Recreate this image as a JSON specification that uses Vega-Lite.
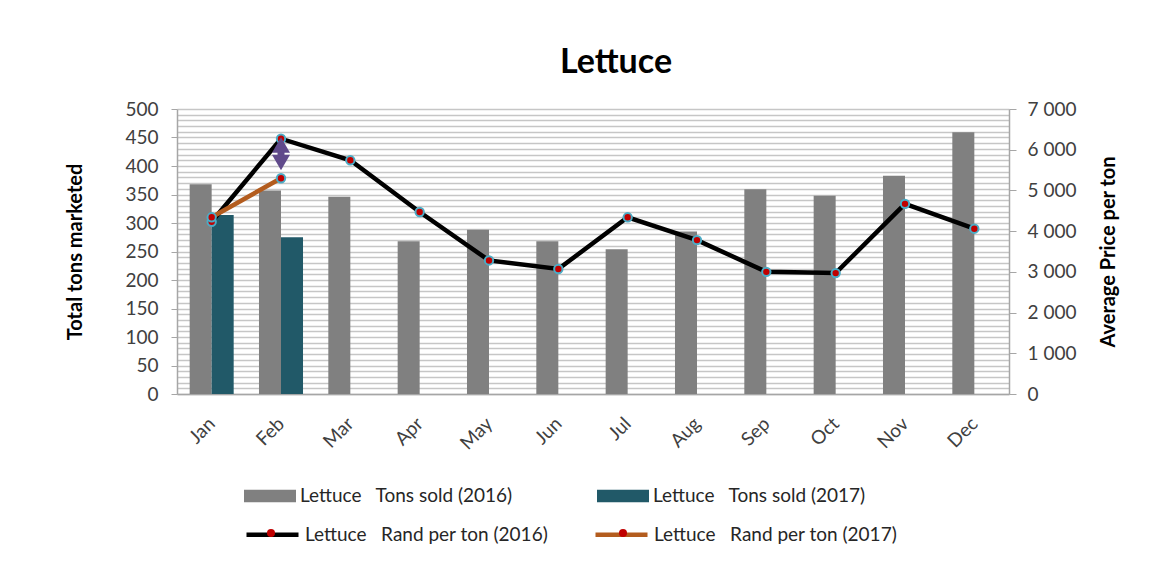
{
  "$schema": "https://vega.github.io/schema/vega-lite/v6.json",
  "width": 832,
  "height": 285,
  "autosize": {"type": "none"},
  "padding": {"left": 177, "top": 109, "right": 143, "bottom": 167},
  "background": "white",
  "title": {"text": "Lettuce", "fontSize": 34, "fontWeight": "bold", "font": "Lato", "color": "#000000", "anchor": "middle", "dx": 23, "offset": -7, "baseline": "alphabetic"},
  "datasets": {
    "tons": [
      {"month": "Jan", "series": "Lettuce\u00a0\u00a0\u00a0Tons sold (2016)", "tons": 368},
      {"month": "Feb", "series": "Lettuce\u00a0\u00a0\u00a0Tons sold (2016)", "tons": 357},
      {"month": "Mar", "series": "Lettuce\u00a0\u00a0\u00a0Tons sold (2016)", "tons": 346},
      {"month": "Apr", "series": "Lettuce\u00a0\u00a0\u00a0Tons sold (2016)", "tons": 268},
      {"month": "May", "series": "Lettuce\u00a0\u00a0\u00a0Tons sold (2016)", "tons": 288},
      {"month": "Jun", "series": "Lettuce\u00a0\u00a0\u00a0Tons sold (2016)", "tons": 268},
      {"month": "Jul", "series": "Lettuce\u00a0\u00a0\u00a0Tons sold (2016)", "tons": 254},
      {"month": "Aug", "series": "Lettuce\u00a0\u00a0\u00a0Tons sold (2016)", "tons": 285},
      {"month": "Sep", "series": "Lettuce\u00a0\u00a0\u00a0Tons sold (2016)", "tons": 359},
      {"month": "Oct", "series": "Lettuce\u00a0\u00a0\u00a0Tons sold (2016)", "tons": 348},
      {"month": "Nov", "series": "Lettuce\u00a0\u00a0\u00a0Tons sold (2016)", "tons": 383},
      {"month": "Dec", "series": "Lettuce\u00a0\u00a0\u00a0Tons sold (2016)", "tons": 459},
      {"month": "Jan", "series": "Lettuce\u00a0\u00a0\u00a0Tons sold (2017)", "tons": 314},
      {"month": "Feb", "series": "Lettuce\u00a0\u00a0\u00a0Tons sold (2017)", "tons": 275}
    ],
    "price": [
      {"month": "Jan", "m": 1, "year": "2016", "series": "Lettuce\u00a0\u00a0\u00a0Rand per ton (2016)", "price": 4230},
      {"month": "Feb", "m": 2, "year": "2016", "series": "Lettuce\u00a0\u00a0\u00a0Rand per ton (2016)", "price": 6270},
      {"month": "Mar", "m": 3, "year": "2016", "series": "Lettuce\u00a0\u00a0\u00a0Rand per ton (2016)", "price": 5740},
      {"month": "Apr", "m": 4, "year": "2016", "series": "Lettuce\u00a0\u00a0\u00a0Rand per ton (2016)", "price": 4470},
      {"month": "May", "m": 5, "year": "2016", "series": "Lettuce\u00a0\u00a0\u00a0Rand per ton (2016)", "price": 3280},
      {"month": "Jun", "m": 6, "year": "2016", "series": "Lettuce\u00a0\u00a0\u00a0Rand per ton (2016)", "price": 3070},
      {"month": "Jul", "m": 7, "year": "2016", "series": "Lettuce\u00a0\u00a0\u00a0Rand per ton (2016)", "price": 4340},
      {"month": "Aug", "m": 8, "year": "2016", "series": "Lettuce\u00a0\u00a0\u00a0Rand per ton (2016)", "price": 3780},
      {"month": "Sep", "m": 9, "year": "2016", "series": "Lettuce\u00a0\u00a0\u00a0Rand per ton (2016)", "price": 3000},
      {"month": "Oct", "m": 10, "year": "2016", "series": "Lettuce\u00a0\u00a0\u00a0Rand per ton (2016)", "price": 2970},
      {"month": "Nov", "m": 11, "year": "2016", "series": "Lettuce\u00a0\u00a0\u00a0Rand per ton (2016)", "price": 4670},
      {"month": "Dec", "m": 12, "year": "2016", "series": "Lettuce\u00a0\u00a0\u00a0Rand per ton (2016)", "price": 4060},
      {"month": "Jan", "m": 1, "year": "2017", "series": "Lettuce\u00a0\u00a0\u00a0Rand per ton (2017)", "price": 4340},
      {"month": "Feb", "m": 2, "year": "2017", "series": "Lettuce\u00a0\u00a0\u00a0Rand per ton (2017)", "price": 5300}
    ],
    "arrow": [
      {"month": "Feb", "top": 6116, "bottom": 5684}
    ]
  },
  "layer": [
    {
      "data": {"name": "tons"},
      "mark": {"type": "bar"},
      "encoding": {
        "x": {
          "field": "month", "type": "nominal",
          "sort": ["Jan", "Feb", "Mar", "Apr", "May", "Jun", "Jul", "Aug", "Sep", "Oct", "Nov", "Dec"],
          "scale": {"paddingInner": 0.365, "paddingOuter": 0.1825},
          "axis": {"title": null, "labelAngle": -45, "labelFontSize": 19, "labelColor": "#404040", "ticks": false, "labelPadding": 20, "labelOffset": -6, "domainColor": "#a6a6a6", "domainWidth": 1.5}
        },
        "xOffset": {"field": "series", "type": "nominal", "sort": ["Lettuce\u00a0\u00a0\u00a0Tons sold (2016)", "Lettuce\u00a0\u00a0\u00a0Tons sold (2017)"]},
        "y": {
          "field": "tons", "type": "quantitative",
          "scale": {"domain": [0, 500], "nice": false},
          "axis": {
            "values": [0,10,20,30,40,50,60,70,80,90,100,110,120,130,140,150,160,170,180,190,200,210,220,230,240,250,260,270,280,290,300,310,320,330,340,350,360,370,380,390,400,410,420,430,440,450,460,470,480,490,500],
            "grid": true, "gridColor": "#c6c6c6", "gridWidth": 1.3,
            "tickSize": 6,
            "tickColor": {"condition": {"test": "datum.value % 50 === 0", "value": "#a6a6a6"}, "value": "transparent"},
            "labelExpr": "datum.value % 50 === 0 ? datum.label : ''",
            "labelFontSize": 19, "labelColor": "#404040", "labelPadding": 13, "labelOverlap": false, "labelFlush": false,
            "domainColor": "#a6a6a6", "domainWidth": 1.5,
            "title": "Total tons marketed", "titleFontSize": 20, "titleFontWeight": "bold", "titleColor": "#000000",
            "titleX": -102, "titleY": 142.5, "titleAngle": -90, "titleBaseline": "middle", "titleAlign": "center"
          }
        },
        "fill": {
          "field": "series", "type": "nominal",
          "scale": {"domain": ["Lettuce\u00a0\u00a0\u00a0Tons sold (2016)", "Lettuce\u00a0\u00a0\u00a0Tons sold (2017)"], "range": ["#808080", "#215968"]},
          "legend": {
            "orient": "none", "legendX": 67, "legendY": 361, "direction": "horizontal", "title": null,
            "symbolType": "M-1,-0.244H1V0.244H-1Z", "symbolSize": 2704, "symbolStrokeWidth": 0,
            "labelFontSize": 19, "labelColor": "#262626", "labelOffset": 4, "columnPadding": 84, "padding": 0, "labelLimit": 400
          }
        }
      }
    },
    {
      "layer": [
        {
          "data": {"name": "price"},
          "mark": {"type": "line", "strokeWidth": 4.5},
          "encoding": {
            "x": {"field": "month", "type": "nominal", "sort": ["Jan", "Feb", "Mar", "Apr", "May", "Jun", "Jul", "Aug", "Sep", "Oct", "Nov", "Dec"]},
            "y": {
              "field": "price", "type": "quantitative",
              "scale": {"domain": [0, 7000], "nice": false},
              "axis": {
                "orient": "right", "values": [0,1000,2000,3000,4000,5000,6000,7000], "format": ",d",
                "labelExpr": "replace(datum.label, ',', ' ')", "grid": false,
                "tickSize": 7, "tickColor": "#a6a6a6", "domainColor": "#a6a6a6", "domainWidth": 1.5,
                "labelFontSize": 19, "labelColor": "#404040", "labelPadding": 11, "labelFlush": false,
                "title": "Average Price per ton", "titleFontSize": 20, "titleFontWeight": "bold", "titleColor": "#000000",
                "titleX": 99.5, "titleY": 142.5, "titleAngle": -90, "titleBaseline": "middle", "titleAlign": "center"
              }
            },
            "order": {"field": "m", "type": "quantitative"},
            "stroke": {
              "field": "series", "type": "nominal",
              "scale": {"domain": ["Lettuce\u00a0\u00a0\u00a0Rand per ton (2016)", "Lettuce\u00a0\u00a0\u00a0Rand per ton (2017)"], "range": ["#000000", "#b35c1e"]},
              "legend": {
                "orient": "none", "legendX": 67, "legendY": 397, "direction": "horizontal", "title": null,
                "symbolType": "stroke", "symbolSize": 2704, "symbolStrokeWidth": 4.5,
                "labelFontSize": 19, "labelColor": "#262626", "labelOffset": 4, "columnPadding": 37, "padding": 0, "labelLimit": 400
              }
            }
          }
        },
        {
          "data": {"name": "price"},
          "mark": {"type": "point", "filled": true, "fill": "#c00000", "stroke": "#4bacc6", "strokeWidth": 2, "size": 70, "opacity": 1},
          "encoding": {
            "x": {"field": "month", "type": "nominal", "sort": ["Jan", "Feb", "Mar", "Apr", "May", "Jun", "Jul", "Aug", "Sep", "Oct", "Nov", "Dec"]},
            "y": {"field": "price", "type": "quantitative", "scale": {"domain": [0, 7000], "nice": false}},
            "shape": {
              "field": "year", "type": "nominal",
              "scale": {"domain": ["2016", "2017"], "range": ["circle", "circle"]},
              "legend": {
                "orient": "none", "legendX": 89, "legendY": 419, "direction": "horizontal", "title": null, "zindex": 2,
                "symbolSize": 64, "symbolFillColor": "#c00000", "symbolStrokeColor": "#4bacc6", "symbolStrokeWidth": 1.5,
                "labelExpr": "''", "labelFontSize": 1, "labelOffset": 0, "columnPadding": 338, "padding": 0
              }
            }
          }
        },
        {
          "data": {"name": "arrow"},
          "mark": {"type": "rule", "color": "#604a8b", "strokeWidth": 7},
          "encoding": {
            "x": {"field": "month", "type": "nominal", "sort": ["Jan", "Feb", "Mar", "Apr", "May", "Jun", "Jul", "Aug", "Sep", "Oct", "Nov", "Dec"]},
            "y": {"field": "top", "type": "quantitative", "scale": {"domain": [0, 7000], "nice": false}},
            "y2": {"field": "bottom"}
          }
        },
        {
          "data": {"name": "arrow"},
          "mark": {"type": "point", "shape": "triangle-up", "filled": true, "color": "#604a8b", "size": 324, "opacity": 1},
          "encoding": {
            "x": {"field": "month", "type": "nominal", "sort": ["Jan", "Feb", "Mar", "Apr", "May", "Jun", "Jul", "Aug", "Sep", "Oct", "Nov", "Dec"]},
            "y": {"field": "top", "type": "quantitative", "scale": {"domain": [0, 7000], "nice": false}}
          }
        },
        {
          "data": {"name": "arrow"},
          "mark": {"type": "point", "shape": "triangle-down", "filled": true, "color": "#604a8b", "size": 324, "opacity": 1},
          "encoding": {
            "x": {"field": "month", "type": "nominal", "sort": ["Jan", "Feb", "Mar", "Apr", "May", "Jun", "Jul", "Aug", "Sep", "Oct", "Nov", "Dec"]},
            "y": {"field": "bottom", "type": "quantitative", "scale": {"domain": [0, 7000], "nice": false}}
          }
        }
      ]
    }
  ],
  "resolve": {"scale": {"y": "independent"}},
  "config": {
    "font": "Lato",
    "view": {"stroke": null},
    "legend": {"labelFont": "Lato"},
    "axis": {"labelFont": "Lato", "titleFont": "Lato"}
  }
}
